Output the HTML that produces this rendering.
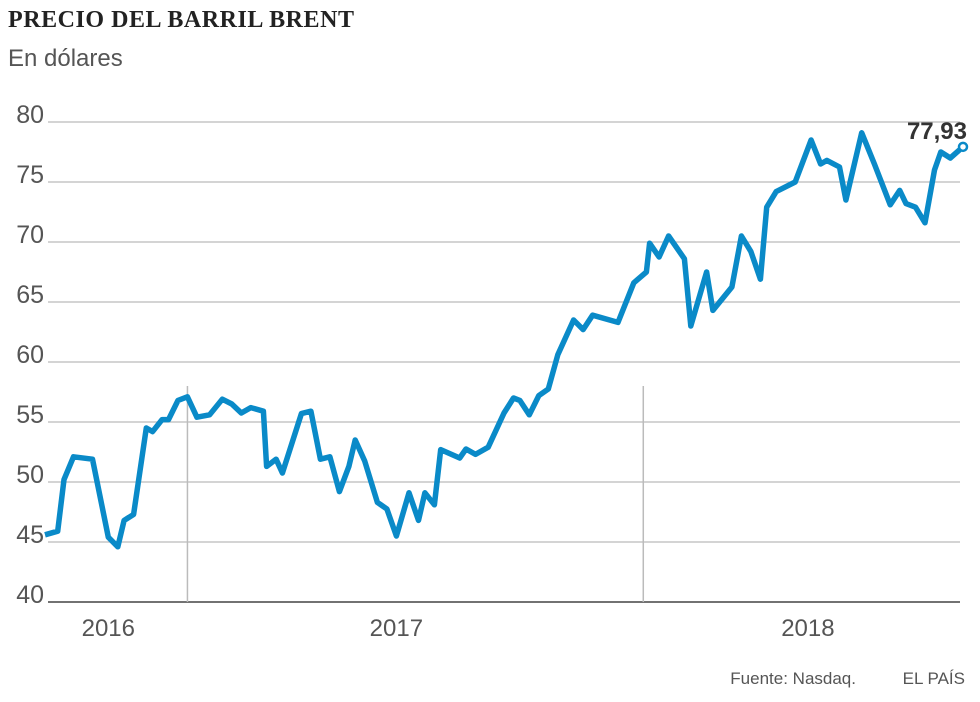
<!DOCTYPE html>
<html><head><meta charset="utf-8"><style>
body{margin:0;background:#fff;width:980px;height:697px;overflow:hidden;font-family:"Liberation Sans",sans-serif}
</style></head><body>
<svg id="c" width="980" height="697">
<text x="8" y="27" font-family="Liberation Serif" font-weight="bold" font-size="24" fill="#222" textLength="346">PRECIO DEL BARRIL BRENT</text>
<text x="8" y="66" font-size="24" fill="#555">En dólares</text>
<g id="grid"></g><g id="xl"></g>
<path id="line" fill="none" stroke="#0a8ac8" stroke-width="5.5" stroke-linejoin="round"></path>
<circle id="endpt" r="4" fill="#fff" stroke="#0a8ac8" stroke-width="2.5"></circle>
<text id="endlbl" x="967" y="139" text-anchor="end" font-size="24" font-weight="bold" fill="#333">77,93</text>
<text x="856" y="684" text-anchor="end" font-size="17" fill="#555">Fuente: Nasdaq.</text>
<text x="965" y="684" text-anchor="end" font-size="17" fill="#555">EL PAÍS</text>
</svg>
<script>
const months=[0,0.4,0.6,0.9,1.5,2.0,2.3,2.5,2.8,3.2,3.4,3.7,3.9,4.2,4.5,4.8,5.2,5.6,5.9,6.2,6.5,6.9,7.0,7.3,7.5,8.1,8.4,8.7,9.0,9.3,9.6,9.8,10.1,10.5,10.8,11.1,11.5,11.8,12.0,12.3,12.5,13.1,13.3,13.6,14.0,14.5,14.8,15.0,15.3,15.6,15.9,16.2,16.7,17.0,17.3,18.1,18.6,19.0,19.1,19.4,19.7,20.2,20.4,20.9,21.1,21.7,22.0,22.3,22.6,22.8,23.1,23.7,24.2,24.5,24.7,25.1,25.3,25.8,26.2,26.7,27.0,27.2,27.5,27.8,28.1,28.3,28.6,29.0];
const prices=[45.6,45.9,50.2,52.1,51.9,45.4,44.6,46.8,47.3,54.5,54.2,55.2,55.2,56.8,57.1,55.4,55.6,56.9,56.5,55.75,56.2,55.9,51.3,51.9,50.75,55.7,55.9,51.9,52.1,49.2,51.3,53.5,51.75,48.3,47.75,45.5,49.1,46.8,49.1,48.1,52.7,52.0,52.75,52.3,52.9,55.75,57.0,56.8,55.6,57.2,57.75,60.6,63.5,62.7,63.9,63.3,66.6,67.5,69.9,68.75,70.5,68.6,63.0,67.5,64.3,66.25,70.5,69.2,66.9,72.9,74.2,75.0,78.5,76.5,76.8,76.25,73.5,79.1,76.5,73.1,74.3,73.2,72.9,71.6,76.0,77.5,77.0,77.93];
const yTicks=[40,45,50,55,60,65,70,75,80];
const xLabels=["2016","2017","2018"];
const xLabelMonths=[2.0,11.1,24.1];
const vLines=[4.5,18.9];
const X=m=>45+m*(918/29), Y=v=>602-(v-40)*12;
const ns="http://www.w3.org/2000/svg";
const g=document.getElementById('grid'), xl=document.getElementById('xl');
yTicks.forEach(t=>{
 const l=document.createElementNS(ns,'line');
 l.setAttribute('x1',48);l.setAttribute('x2',960);l.setAttribute('y1',Y(t));l.setAttribute('y2',Y(t));
 l.setAttribute('stroke',t===40?'#444':'#bbb');l.setAttribute('stroke-width',t===40?1.5:1.2);
 
 
 g.appendChild(l);
 const tx=document.createElementNS(ns,'text');
 tx.setAttribute('x',44);tx.setAttribute('y',Y(t)+1);tx.setAttribute('text-anchor','end');
 tx.setAttribute('font-size','25');tx.setAttribute('fill','#555');tx.textContent=t;
 
 
 g.appendChild(tx);
});
vLines.forEach(m=>{
 const l=document.createElementNS(ns,'line');
 l.setAttribute('x1',X(m));l.setAttribute('x2',X(m));l.setAttribute('y1',Y(58));l.setAttribute('y2',Y(40));
 l.setAttribute('stroke','#bbb');l.setAttribute('stroke-width',1.5);
 
 
 g.appendChild(l);
});
xLabels.forEach((s,i)=>{
 const tx=document.createElementNS(ns,'text');
 tx.setAttribute('x',X(xLabelMonths[i]));tx.setAttribute('y',636);tx.setAttribute('text-anchor','middle');
 tx.setAttribute('font-size','24');tx.setAttribute('fill','#555');tx.textContent=s;
 
 
 xl.appendChild(tx);
});
document.getElementById('line').setAttribute('d',months.map((m,i)=>(i?'L':'M')+X(m).toFixed(1)+' '+Y(prices[i]).toFixed(1)).join(''));
const last=months.length-1;
const c=document.getElementById('endpt');c.setAttribute('cx',X(months[last]));c.setAttribute('cy',Y(prices[last]));
document.getElementById('endlbl').textContent=prices[last].toFixed(2).replace('.',',');
</script>
</body></html>
